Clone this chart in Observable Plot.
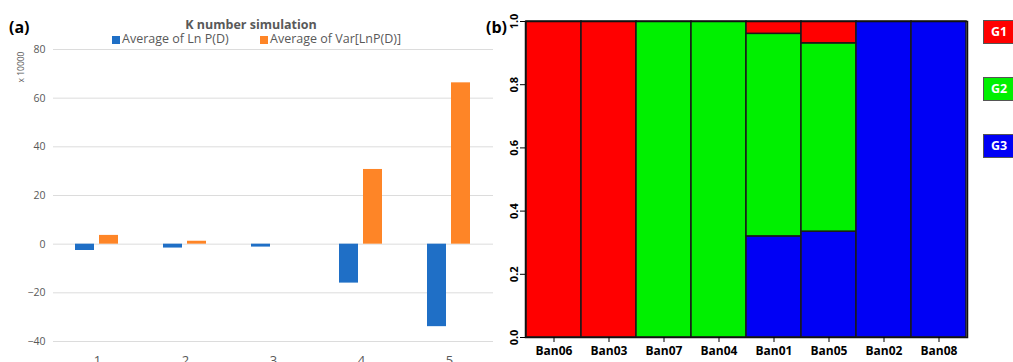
<!DOCTYPE html>
<html><head><meta charset="utf-8">
<script src="https://cdn.jsdelivr.net/npm/d3@7"></script>
<script src="https://cdn.jsdelivr.net/npm/@observablehq/plot@0.6"></script>
<style>
body{margin:0;background:#fff;width:1013px;height:362px;overflow:hidden;position:relative;font-family:"Open Sans",sans-serif}
.abs{position:absolute;white-space:nowrap}
</style></head><body>
<div id="a" class="abs" style="left:0;top:0"></div>
<div id="b" class="abs" style="left:480px;top:0"></div>
<div class="abs" style="left:9px;top:17px;font-size:16px;font-weight:bold;color:#000;line-height:20px">(a)</div>
<div class="abs" style="left:486px;top:17px;font-size:16px;font-weight:bold;color:#000;line-height:20px">(b)</div>
<div class="abs" style="left:0;width:502px;top:17px;text-align:center;font-size:12.5px;font-weight:bold;color:#595959;line-height:16px">K number simulation</div>
<div class="abs" style="left:20px;top:67px;transform:translate(-50%,-50%) rotate(-90deg);font-size:8.5px;color:#595959">x 10000</div>
<div id="legA"></div>
<div id="legB"></div>
<script>
// Panel (a): K number simulation
const kValues = ["1", "2", "3", "4", "5"];
const series = ["Average of Ln P(D)", "Average of Var[LnP(D)]"];
const avgLnPD = [-2.6, -1.6, -1.2, -16.0, -33.9];
const avgVarLnPD = [3.6, 1.2, 0.0, 30.7, 66.3];
const seriesColors = ["#1f6fc6", "#fe8527"];
const yTicksA = [-40, -20, 0, 20, 40, 60, 80];

// Panel (b): STRUCTURE membership
const samples = ["Ban06", "Ban03", "Ban07", "Ban04", "Ban01", "Ban05", "Ban02", "Ban08"];
const groups = ["G1", "G2", "G3"];
const g1 = [1, 1, 0, 0, 0.039, 0.069, 0, 0];
const g2 = [0, 0, 1, 1, 0.641, 0.596, 0, 0];
const g3 = [0, 0, 0, 0, 0.32, 0.335, 1, 1];
const groupColors = ["#ff0000", "#00f000", "#0000f5"];
const yTicksB = [0, 0.2, 0.4, 0.6, 0.8, 1.0];

const FONT = '"Open Sans", sans-serif';

const tableA = [];
kValues.forEach((k, i) => {
  tableA.push({k, series: series[0], value: avgLnPD[i]});
  tableA.push({k, series: series[1], value: avgVarLnPD[i]});
});

const plotA = Plot.plot({
  width: 500, height: 362,
  marginLeft: 52, marginRight: 7, marginTop: 49, marginBottom: 21,
  style: {fontFamily: FONT, color: "#595959", background: "transparent"},
  fx: {domain: kValues, padding: 0, label: null},
  x: {domain: series, paddingInner: 0.2, paddingOuter: 0.864, axis: null},
  y: {domain: [-40, 80], label: null},
  color: {domain: series, range: seriesColors},
  marks: [
    Plot.ruleY(yTicksA, {stroke: "#dcdcdc", strokeWidth: 1}),
    Plot.barY(tableA, {fx: "k", x: "series", y: "value", fill: "series"}),
    Plot.axisY({ticks: yTicksA, tickSize: 0, tickPadding: 8, fontSize: 10.5, label: null}),
    Plot.axisFx({anchor: "bottom", tickSize: 0, tickPadding: 14, fontSize: 13, label: null})
  ]
});
document.getElementById("a").appendChild(plotA);

// legend (a)
const legA = document.getElementById("legA");
const legPos = [[112, 122], [260, 270]];
series.forEach((s, i) => {
  const sq = document.createElement("div");
  sq.className = "abs";
  sq.style.cssText = `left:${legPos[i][0]}px;top:36px;width:8px;height:8px;background:${seriesColors[i]}`;
  legA.appendChild(sq);
  const t = document.createElement("div");
  t.className = "abs";
  t.style.cssText = `left:${legPos[i][1]}px;top:31px;font-size:12.5px;line-height:16px;color:#595959`;
  t.textContent = s;
  legA.appendChild(t);
});

const tableB = [];
samples.forEach((s, i) => {
  // bottom to top: G3, G2, G1
  [[groups[2], g3[i]], [groups[1], g2[i]], [groups[0], g1[i]]].forEach(([g, v]) => {
    if (v > 0) tableB.push({sample: s, group: g, value: v});
  });
});

const plotB = Plot.plot({
  width: 533, height: 362,
  marginLeft: 45, marginRight: 46, marginTop: 21, marginBottom: 25,
  style: {fontFamily: FONT, color: "#000", background: "transparent"},
  x: {domain: samples, padding: 0, label: null},
  y: {domain: [0, 1], label: null},
  color: {domain: groups, range: groupColors},
  marks: [
    Plot.barY(tableB, {x: "sample", y: "value", fill: "group", stroke: "#1a1a1a", strokeWidth: 1.5}),
    Plot.frame({stroke: "#111", strokeWidth: 1.5}),
    Plot.axisY({ticks: yTicksB, tickFormat: d3.format(".1f"), tickRotate: -90, tickSize: 5, tickPadding: 3, fontSize: 11, fontWeight: "bold", label: null}),
    Plot.axisX({tickSize: 5, tickPadding: 4, fontSize: 12, fontWeight: "bold", label: null})
  ]
});
document.getElementById("b").appendChild(plotB);

// legend (b)
const legB = document.getElementById("legB");
const legTops = [20, 77, 134];
groups.forEach((g, i) => {
  const box = document.createElement("div");
  box.className = "abs";
  box.style.cssText = `left:983px;top:${legTops[i]}px;width:30px;height:22px;background:${groupColors[i]};border:1px solid #555;color:#fff;font-weight:bold;font-size:12.5px;line-height:22px;text-align:center;box-sizing:content-box`;
  box.textContent = g;
  legB.appendChild(box);
});
</script>
</body></html>
